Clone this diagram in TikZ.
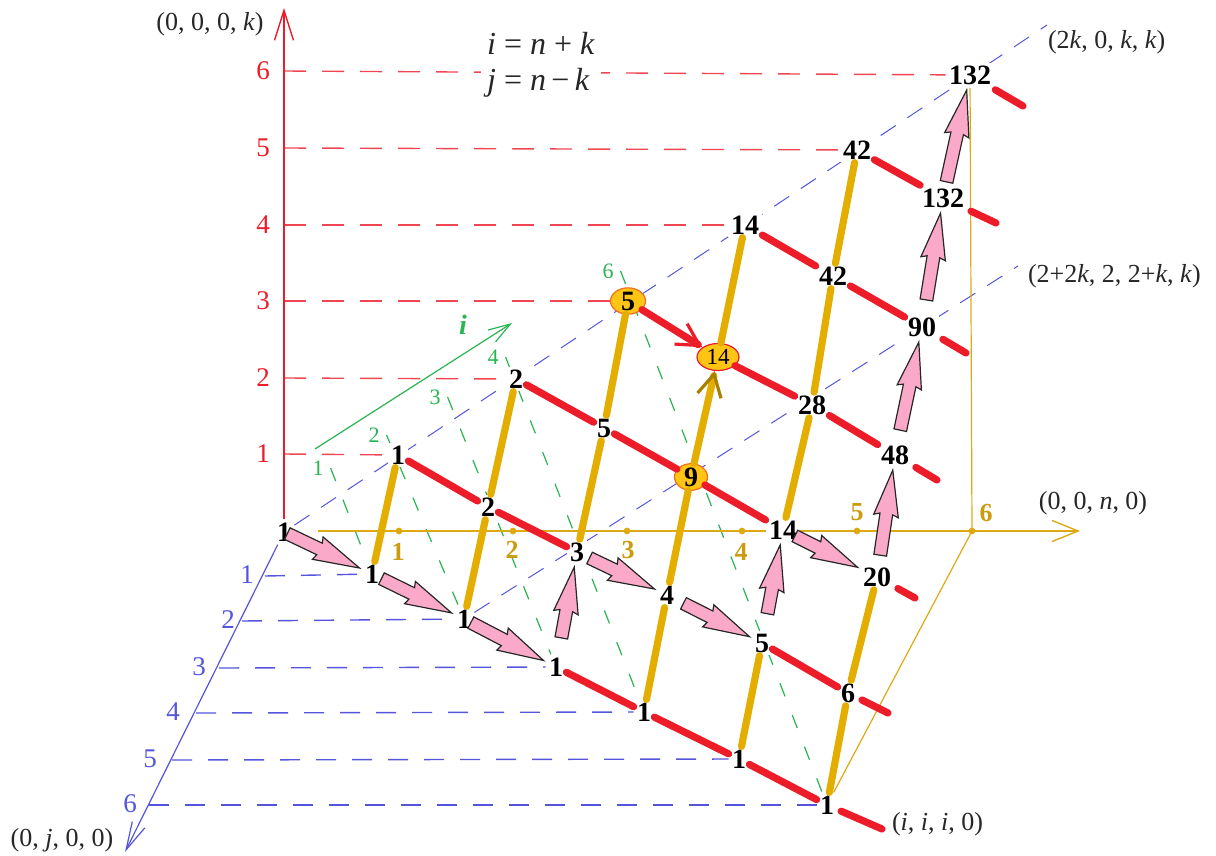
\documentclass[tikz,border=0pt]{standalone}
\usepackage{fontspec}
\setmainfont{Liberation Serif}
\usetikzlibrary{arrows.meta,shapes.geometric,shapes.arrows,calc,backgrounds}

\definecolor{kred}{RGB}{236,28,40}
\definecolor{dred}{RGB}{240,70,82}
\definecolor{jblue}{RGB}{84,84,222}
\definecolor{igreen}{RGB}{40,180,80}
\definecolor{ngold}{RGB}{222,170,20}
\definecolor{tgold}{RGB}{228,174,0}
\definecolor{lgold}{RGB}{204,156,16}
\definecolor{hlfill}{RGB}{255,196,20}
\definecolor{hlline}{RGB}{242,110,30}
\definecolor{pinkc}{RGB}{250,170,200}
\definecolor{abrown}{RGB}{168,128,0}

% fat pink arrow between two lattice values, tip at the second one
\newcommand\parr[3]{%
  \path (#1) -- (#2) node[parrow, pos=1, anchor=tip, minimum height=#3] {};}

\begin{document}
\begin{tikzpicture}[x=0.5pt,y=-0.5pt,
  num/.style={fill=white,inner sep=1.5pt,font=\fontsize{14}{14}\selectfont\bfseries},
  hl/.style={ellipse,fill=hlfill,draw=hlline,line width=.6pt,inner sep=0pt,
    font=\fontsize{14}{14}\selectfont\bfseries},
  rthick/.style={kred,line width=3.6pt,line cap=round},
  gthick/.style={tgold,line width=3.6pt,line cap=round},
  parrow/.style={single arrow,draw=black!85,fill=pinkc,line width=.6pt,
    inner xsep=0pt,inner ysep=2.9pt,single arrow head extend=3pt,
    single arrow tip angle=30,single arrow head indent=1pt,sloped,allow upside down},
  kdash/.style={dred,line width=.7pt,dash pattern=on 11pt off 8pt},
  jdash/.style={jblue,line width=.7pt,dash pattern=on 10pt off 8pt},
  ddash/.style={jblue,line width=.5pt,dash pattern=on 9pt off 7pt},
  idash/.style={igreen,line width=.6pt,dash pattern=on 7pt off 10pt},
  lbl/.style={text=black!85,font=\fontsize{13}{13}\selectfont},
  ticklbl/.style={font=\fontsize{13.5}{13.5}\selectfont},
  ]
  \useasboundingbox (0,0) rectangle (1216,856);

  % lattice values, v<n><k>
  \node[num] (v00) at (284,532) {1};
  \node[num] (v10) at (372,574) {1};
  \node[num] (v20) at (464,619) {1};
  \node[num] (v30) at (556,667) {1};
  \node[num] (v40) at (644,712) {1};
  \node[num] (v50) at (739,759) {1};
  \node[num] (v60) at (827,805) {1};
  \node[num] (v11) at (398,455) {1};
  \node[num] (v21) at (488,507) {2};
  \node[num] (v31) at (577,552) {3};
  \node[num] (v41) at (667,595) {4};
  \node[num] (v51) at (762,643) {5};
  \node[num] (v61) at (848,693) {6};
  \node[num] (v22) at (516,379) {2};
  \node[num] (v32) at (604,428) {5};
  \node[hl,minimum width=16.5pt,minimum height=12.5pt] (v42) at (691,477) {9};
  \node[num] (v52) at (783,530) {14};
  \node[num] (v62) at (877,577) {20};
  \node[hl,minimum width=17.5pt,minimum height=12pt] (v33) at (628,301) {5};
  \node[hl,draw=kred,minimum width=21pt,minimum height=13.5pt,
    font=\fontsize{11.5}{11.5}\selectfont] (v43) at (718,357) {14};
  \node[num] (v53) at (812,405) {28};
  \node[num] (v63) at (895,455) {48};
  \node[num] (v44) at (745,225) {14};
  \node[num] (v54) at (833,276) {42};
  \node[num] (v64) at (922,327) {90};
  \node[num] (v55) at (857,150) {42};
  \node[num] (v65) at (943,198) {132};
  \node[num] (v66) at (970,75) {132};

  % axes ends and stubs
  \coordinate (ktip) at (284,8);
  \coordinate (jtip) at (125,852);
  \coordinate (nstart) at (318,531);
  \coordinate (ntip) at (1080,531);
  \coordinate (istart) at (315,449);
  \coordinate (itip) at (512,323);
  \coordinate (d0) at (1047,25);
  \coordinate (d2) at (1018,266);
  \coordinate (s0) at (882,829);
  \coordinate (s1) at (888,713);
  \coordinate (s2) at (915,598);
  \coordinate (s3) at (937,480);
  \coordinate (s4) at (966,353);
  \coordinate (s5) at (996,223);
  \coordinate (s6) at (1023,106);

  % k axis
  \foreach \k/\y in {1/454,2/378,3/301,4/225,5/148,6/71} {
    \coordinate (k\k) at (284,\y);
    \node[kred,ticklbl] (kl\k) at (263,\y) {\k};
  }
  % j axis
  \foreach \j/\x/\y/\lx in {1/265/576/247,2/242/621/228,3/219/668/199,
      4/196/713/173,5/172/760/150,6/149/805/130} {
    \coordinate (j\j) at (\x,\y);
    \node[jblue,ticklbl] (jl\j) at (\lx,\y-1) {\j};
  }
  % n axis
  \foreach \n/\x in {1/399,2/513,3/627,4/742,5/857,6/972}
    \fill[ngold] (\x,531) circle (1.7pt) coordinate (n\n);
  \foreach \n/\x/\y in {1/398/552,2/512/550,3/628/550,4/741/552,5/857/512,6/986/513}
    \node[lgold,font=\fontsize{13}{13}\selectfont\bfseries] (nl\n) at (\x,\y) {\n};
  % i axis
  \foreach \i/\x/\y in {1/318/468,2/374/435,3/435/397,4/493/357,6/608/271}
    \node[igreen,font=\fontsize{11}{11}\selectfont] (gi\i) at (\x,\y) {\i};
  \node[igreen,font=\fontsize{14}{14}\selectfont\bfseries\itshape] (ilbl) at (463,325) {i};

  \node[lbl,fill=white,align=left,inner sep=3pt,font=\fontsize{16}{18}\selectfont]
    (eqs) at (541,65) {\textit{i} = \textit{n} + \textit{k}\\\textit{j} = \textit{n}\,−\,\textit{k}};
  \node[lbl] (lk) at (210,24) {(0, 0, 0, \textit{k})};
  \node[lbl,anchor=west] (ld0) at (1041,42) {(2\textit{k}, 0, \textit{k}, \textit{k})};
  \node[lbl,anchor=west] (ld2) at (1021,276) {(2+2\textit{k}, 2, 2+\textit{k}, \textit{k})};
  \node[lbl] (ln) at (1093,503) {(0, 0, \textit{n}, 0)};
  \node[lbl,anchor=west] (li) at (885,824) {(\textit{i}, \textit{i}, \textit{i}, 0)};
  \node[lbl] (lj) at (62,840) {(0, \textit{j}, 0, 0)};

  \begin{scope}[on background layer]
    \foreach \k in {1,...,6}
      \draw[kdash] (k\k) -- (v\k\k);
    \foreach \j in {1,...,6}
      \draw[jdash] (j\j) -- (v\j0);
    \foreach \i in {1,2,3,4,6}
      \draw[idash] (gi\i.east) -- (v\i0);
    \draw[ddash] (v00) -- (d0);
    \draw[ddash] (v20) -- (d2);
    \draw[kred,line width=.7pt,-{Straight Barb[length=15pt,width=9.5pt]}] (v00) -- (ktip);
    \draw[jblue,line width=.6pt,-{Straight Barb[length=14pt,width=7pt]}] (v00) -- (jtip);
    \draw[ngold,line width=.7pt,-{Straight Barb[length=13pt,width=10.5pt]}] (nstart) -- (ntip);
    \draw[igreen,line width=.6pt,-{Straight Barb[length=11pt,width=7pt]}] (istart) -- (itip);
    \draw[ngold,line width=.6pt] (n6) -- (v66);
    \draw[ngold,line width=.6pt] (n6) -- (v60);
  \end{scope}

  % red: along k
  \draw[rthick] (v30) -- (v40);
  \draw[rthick] (v40) -- (v50);
  \draw[rthick] (v50) -- (v60);
  \draw[rthick] (v11) -- (v21);
  \draw[rthick] (v21) -- (v31);
  \draw[rthick] (v51) -- (v61);
  \draw[rthick] (v22) -- (v32);
  \draw[rthick] (v32) -- (v42);
  \draw[rthick] (v42) -- (v52);
  \draw[rthick] (v43) -- (v53);
  \draw[rthick] (v53) -- (v63);
  \draw[rthick] (v44) -- (v54);
  \draw[rthick] (v54) -- (v64);
  \draw[rthick] (v55) -- (v65);
  \foreach \k in {0,...,6}
    \draw[rthick,shorten <=2pt] (v6\k) -- (s\k);
  \draw[rthick,-{Straight Barb[length=11pt,width=12pt,line width=1.6pt]}] (v33) -- (v43);

  % gold: along n
  \draw[gthick] (v10) -- (v11);
  \draw[gthick] (v20) -- (v21);
  \draw[gthick] (v21) -- (v22);
  \draw[gthick] (v31) -- (v32);
  \draw[gthick] (v32) -- (v33);
  \draw[gthick] (v40) -- (v41);
  \draw[gthick] (v41) -- (v42);
  \draw[gthick] (v43) -- (v44);
  \draw[gthick] (v50) -- (v51);
  \draw[gthick] (v52) -- (v53);
  \draw[gthick] (v53) -- (v54);
  \draw[gthick] (v54) -- (v55);
  \draw[gthick] (v60) -- (v61);
  \draw[gthick] (v61) -- (v62);
  \draw[gthick,-{Straight Barb[length=11pt,width=12pt,line width=1.6pt,color=abrown]}] (v42) -- (v43);

  % the path
  \parr{v00}{v10}{40pt}
  \parr{v10}{v20}{39pt}
  \parr{v20}{v30}{41pt}
  \parr{v30}{v31}{36pt}
  \parr{v31}{v41}{36pt}
  \parr{v41}{v51}{37pt}
  \parr{v51}{v52}{35pt}
  \parr{v52}{v62}{35pt}
  \parr{v62}{v63}{43pt}
  \parr{v63}{v64}{45pt}
  \parr{v64}{v65}{44pt}
  \parr{v65}{v66}{47pt}
\end{tikzpicture}
\end{document}
